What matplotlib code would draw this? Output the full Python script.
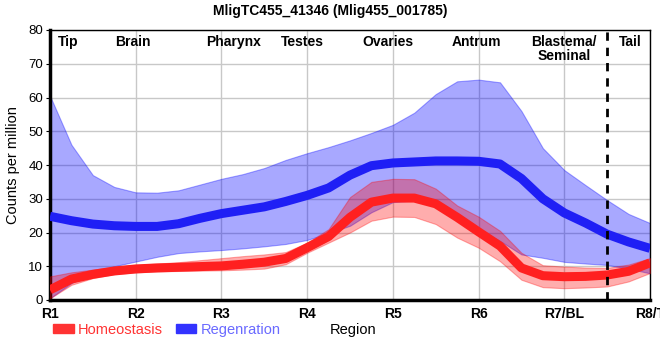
import matplotlib
matplotlib.use("Agg")
import matplotlib.pyplot as plt
from matplotlib.patches import Patch
import numpy as np

plt.rcParams['font.family'] = ['Liberation Sans', 'DejaVu Sans']

# region index positions (0 = R1 ... 7 = R8/T), sampled every quarter region
pos = [i * 0.25 for i in range(29)]
tick_labels = ["R1", "R2", "R3", "R4", "R5", "R6", "R7/BL", "R8/T"]

regen_mean = [24.8, 23.5, 22.5, 22.0, 21.8, 21.8, 22.6, 24.2, 25.6, 26.6, 27.6, 29.2, 31.0,
              33.2, 37.0, 39.8, 40.6, 40.9, 41.2, 41.2, 41.1, 40.3, 36.0, 30.0, 25.8, 22.8,
              19.5, 17.2, 15.3]
regen_upper = [60.5, 46.0, 37.0, 33.5, 31.9, 31.8, 32.5, 34.2, 35.9, 37.3, 39.1, 41.5, 43.5,
               45.3, 47.3, 49.5, 51.9, 55.5, 61.0, 64.8, 65.3, 64.5, 56.0, 45.0, 38.5, 34.0,
               29.6, 25.5, 22.8]
regen_lower = [0.5, 5.0, 8.0, 10.0, 11.4, 12.8, 13.9, 14.4, 14.8, 15.3, 15.9, 16.6, 17.8,
               19.8, 22.0, 26.0, 29.0, 29.5, 28.5, 25.5, 21.0, 17.5, 13.5, 12.5, 11.3, 10.8,
               10.4, 9.3, 7.9]

homeo_mean = [3.0, 6.2, 7.6, 8.6, 9.2, 9.5, 9.7, 9.9, 10.1, 10.6, 11.2, 12.3, 15.5,
              18.8, 24.5, 29.0, 30.2, 30.2, 28.5, 24.5, 20.2, 16.0, 9.5, 7.2, 6.9, 7.0,
              7.4, 8.5, 11.0]
homeo_upper = [7.0, 8.2, 9.0, 9.8, 10.4, 10.8, 11.2, 11.8, 12.4, 13.0, 13.5, 14.2, 17.0,
               21.0, 30.5, 35.0, 35.9, 35.8, 33.0, 28.0, 24.7, 20.5, 14.0, 10.3, 9.9, 9.6,
               9.5, 10.5, 12.4]
homeo_lower = [0.5, 4.5, 6.5, 7.7, 8.2, 8.5, 8.6, 8.7, 8.8, 9.0, 9.3, 10.6, 14.0,
               17.0, 20.0, 23.5, 24.7, 24.6, 22.5, 18.5, 15.5, 11.5, 6.0, 3.8, 3.5, 3.7,
               4.0, 5.5, 8.0]

sections = ["Tip", "Brain", "Pharynx", "Testes", "Ovaries", "Antrum", "Blastema/\nSeminal", "Tail"]
section_x = [0.21, 0.97, 2.14, 2.95, 3.94, 4.97, 6.0, 6.77]

fig = plt.figure(figsize=(6.6, 3.6), dpi=100)
ax = fig.add_axes([50 / 660, 60 / 360, 600 / 660, 270 / 360])

blue = "#0000ff"
red = "#ff0000"
ax.fill_between(pos, regen_lower, regen_upper, color=blue, alpha=0.34, lw=0.8,
                joinstyle="round", zorder=2)
ax.fill_between(pos, homeo_lower, homeo_upper, color=red, alpha=0.32, lw=0.8,
                joinstyle="round", zorder=3)
ax.plot(pos, regen_mean, color="#1f1ff5", lw=6.5, solid_capstyle="butt",
        solid_joinstyle="round", zorder=4)
ax.plot(pos, homeo_mean, color="#ff2020", lw=6.5, solid_capstyle="butt",
        solid_joinstyle="round", zorder=5)

ax.axvline(6.5, color="black", lw=2, ls=(0, (3, 2.5)), zorder=6)

ax.set_xlim(0, 7)
ax.set_ylim(0, 80)
ax.set_xticks(range(8))
ax.set_xticklabels(tick_labels, fontweight="bold", fontsize=10)
ax.set_yticks(range(0, 81, 10))
ax.tick_params(axis="x", length=0, pad=5)
ax.tick_params(axis="y", length=3, labelsize=9.5, pad=2)
ax.grid(True, color="#c8c8c8", lw=1)
ax.set_axisbelow(True)
ax.spines["left"].set_linewidth(2.5)
ax.spines["bottom"].set_linewidth(2.5)
ax.spines["top"].set_linewidth(1)
ax.spines["right"].set_linewidth(1)
ax.set_ylabel("Counts per million", fontsize=10.5, labelpad=6)

for name, x in zip(sections, section_x):
    ax.text(x, 78.5, name, ha="center", va="top",
            fontsize=10, fontweight="bold", linespacing=1.0, zorder=7)

fig.text(0.5, 0.99, "MligTC455_41346 (Mlig455_001785)", ha="center", va="top",
         fontsize=10, fontweight="bold")
fig.text(330 / 660, 1 - 330 / 360, "Region", ha="left", va="center", fontsize=10.5)

handles = [Patch(color="#ff3333"), Patch(color="#3333ff")]
leg = fig.legend(handles, ["Homeostasis", "Regenration"], loc="center left",
                 bbox_to_anchor=(40 / 660, 1 - 330 / 360), ncol=2, frameon=False,
                 fontsize=10.5, handlelength=1.4, handleheight=0.6, handletextpad=0.3,
                 columnspacing=0.9)
for t, c in zip(leg.get_texts(), ["#ff3333", "#6a6aff"]):
    t.set_color(c)

fig.savefig("out.png", dpi=100)
